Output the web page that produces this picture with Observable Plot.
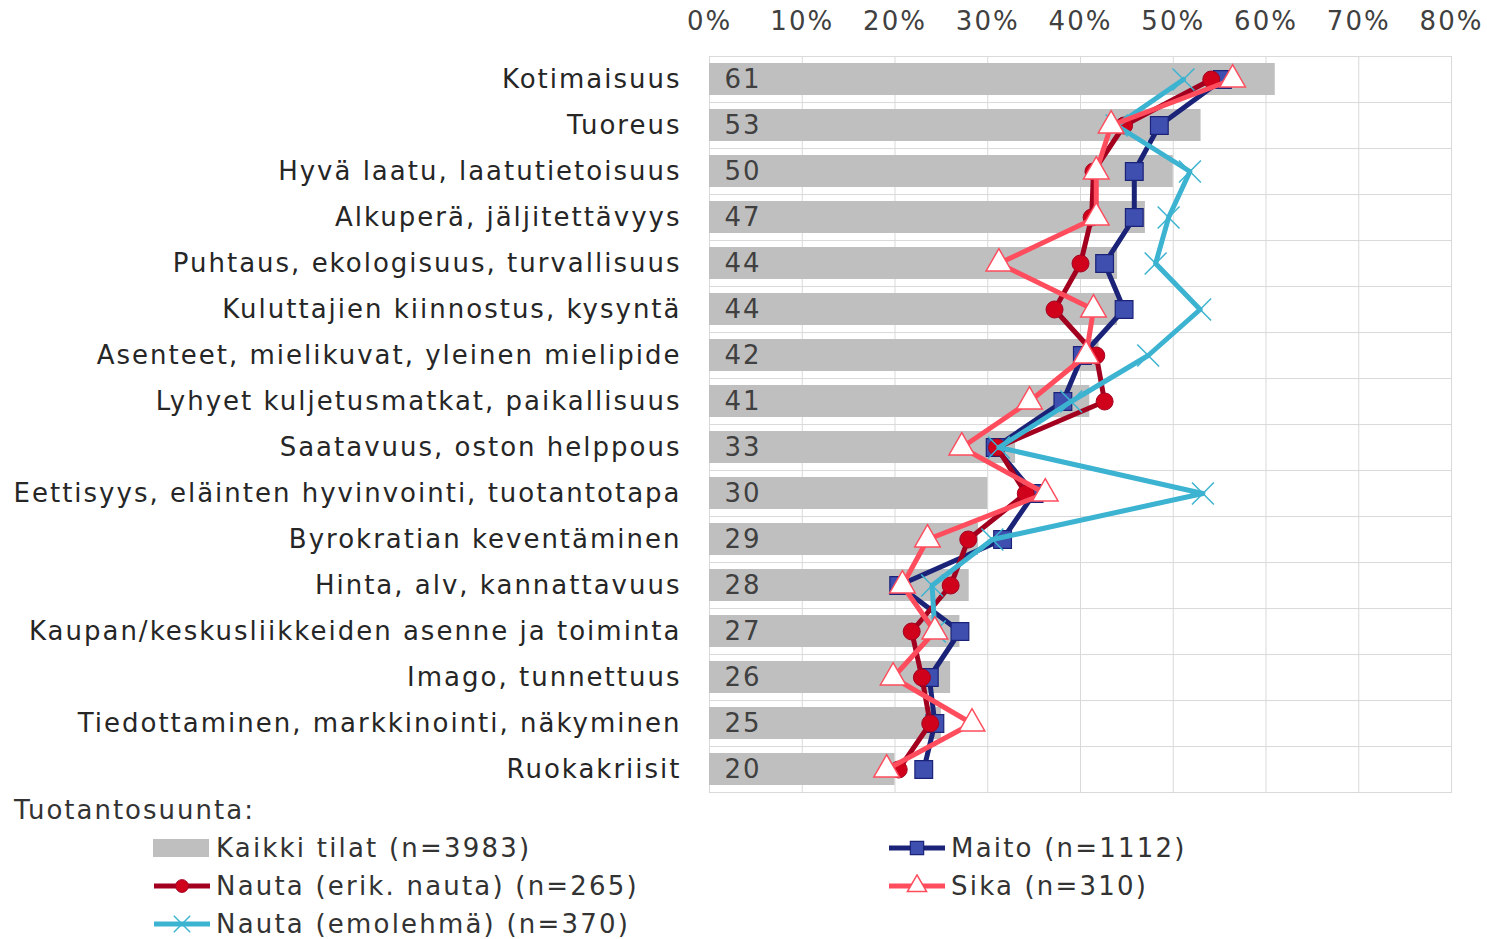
<!DOCTYPE html>
<html>
<head>
<meta charset="utf-8">
<script src="https://cdn.jsdelivr.net/npm/d3@7"></script>
<script src="https://cdn.jsdelivr.net/npm/@observablehq/plot@0.6"></script>
<style>
  body { margin: 0; background: white; font-family: "DejaVu Sans", sans-serif; }
  #chart svg { display: block; }
  .legend-title { font-size: 26px; color: #333; letter-spacing: 2px; margin: 0 0 0 14px; line-height: 30px; }
  .legend { display: grid; grid-template-columns: 735px auto; padding-left: 152px; font-size: 26px; color: #333; letter-spacing: 2.2px; margin-top: 4px; }
  .item { display: flex; align-items: center; height: 38px; }
  .item svg { margin-right: 2px; }
</style>
</head>
<body>
<div id="chart"></div>
<div class="legend-title">Tuotantosuunta:</div>
<div class="legend" id="legend"></div>
<script>
const categories = [
  "Kotimaisuus",
  "Tuoreus",
  "Hyvä laatu, laatutietoisuus",
  "Alkuperä, jäljitettävyys",
  "Puhtaus, ekologisuus, turvallisuus",
  "Kuluttajien kiinnostus, kysyntä",
  "Asenteet, mielikuvat, yleinen mielipide",
  "Lyhyet kuljetusmatkat, paikallisuus",
  "Saatavuus, oston helppous",
  "Eettisyys, eläinten hyvinvointi, tuotantotapa",
  "Byrokratian keventäminen",
  "Hinta, alv, kannattavuus",
  "Kaupan/keskusliikkeiden asenne ja toiminta",
  "Imago, tunnettuus",
  "Tiedottaminen, markkinointi, näkyminen",
  "Ruokakriisit"
];
const kaikki    = [61, 53, 50, 47, 44, 44, 42, 41, 33, 30, 29, 28, 27, 26, 25, 20];
const maito     = [55.3, 48.5, 45.8, 45.8, 42.6, 44.7, 40.2, 38.1, 30.8, 35.0, 31.6, 20.4, 27.0, 23.7, 24.3, 23.1];
const nautaErik = [54.1, 44.7, 41.4, 41.2, 40.0, 37.2, 41.7, 42.6, 31.0, 34.1, 27.9, 26.0, 21.8, 22.9, 23.8, 20.4];
const nautaEmo  = [51.1, 43.9, 51.8, 49.5, 48.1, 52.9, 47.3, 39.0, 31.2, 53.2, 30.5, 24.0, 24.3, null, null, null];
const sika      = [56.4, 43.3, 41.7, 41.7, 31.2, 41.4, 40.6, 34.5, 27.2, 36.2, 23.5, 20.8, 24.3, 19.8, 28.3, 19.1];
const xTicks = [0, 10, 20, 30, 40, 50, 60, 70, 80];

const seriesNames = {
  kaikki: "Kaikki tilat (n=3983)",
  maito: "Maito (n=1112)",
  nautaErik: "Nauta (erik. nauta) (n=265)",
  nautaEmo: "Nauta (emolehmä) (n=370)",
  sika: "Sika (n=310)"
};

const W = 1487, H = 795, mTop = 56, mBottom = 2;
const step = (H - mTop - mBottom) / categories.length;

const rows = (vals) => categories.map((c, i) => ({cat: c, v: vals[i]}));
const bars = rows(kaikki);

const styles = [
  {vals: maito, line: "#1b2378", symbol: "square", fill: "#3f4fb0", stroke: "#1b2378", r: 10, sw: 1.2},
  {vals: nautaErik, line: "#a3001f", symbol: "circle", fill: "#d0021b", stroke: "#a3001f", r: 8.5, sw: 1},
  {vals: nautaEmo, line: "#3cb3d0", symbol: "times", fill: "none", stroke: "#3cb3d0", r: 10, sw: 1.5},
  {vals: sika, line: "#ff4d5e", symbol: "triangle", fill: "white", stroke: "#ff4d5e", r: 9.5, sw: 1.5}
];

const seriesMarks = styles.flatMap(s => {
  const d = rows(s.vals);
  return [
    Plot.line(d, {x: "v", y: "cat", stroke: s.line, strokeWidth: 5, curve: "linear"}),
    Plot.dot(d.filter(e => e.v != null), {x: "v", y: "cat", symbol: () => s.symbol, fill: s.fill, stroke: s.stroke, strokeWidth: s.sw, r: s.r})
  ];
});

const chart = Plot.plot({
  width: W, height: H,
  marginLeft: 709, marginRight: 36, marginTop: mTop, marginBottom: mBottom,
  style: {fontFamily: "DejaVu Sans", fontSize: "26px", color: "#333", background: "white", letterSpacing: "2px"},
  x: {domain: [0, 80], label: null},
  y: {domain: categories, paddingInner: 0.3, paddingOuter: 0.15, label: null},
  symbol: {type: "identity"},
  marks: [
    Plot.gridX(xTicks, {stroke: "#d9d9d9", strokeOpacity: 1, strokeWidth: 1}),
    Plot.ruleY(categories, {y: d => d, dy: step / 2, stroke: "#d9d9d9", x1: 0, x2: 80}),
    Plot.ruleY(categories.slice(0, 1), {y: d => d, dy: -step / 2, stroke: "#d9d9d9", x1: 0, x2: 80}),
    Plot.barX(bars, {x: "v", y: "cat", fill: "#bfbfbf"}),
    Plot.text(bars, {x: 0, y: "cat", text: d => String(d.v), textAnchor: "start", dx: 15, fill: "#404040", fontSize: 26}),
    ...seriesMarks,
    Plot.axisX(xTicks, {anchor: "top", tickSize: 0, tickPadding: 27, tickFormat: d => d + "%", fill: "#404040", label: null}),
    Plot.axisY({tickSize: 0, tickPadding: 28, fill: "#262626", label: null})
  ]
});
document.getElementById("chart").appendChild(chart);

// Legend
const legendItems = [
  {key: "kaikki", type: "bar"},
  {key: "maito", s: styles[0]},
  {key: "nautaErik", s: styles[1]},
  {key: "sika", s: styles[3]},
  {key: "nautaEmo", s: styles[2]},
  null
];
function symbolPath(sym, r) {
  const area = Math.PI * r * r;
  const map = {square: d3.symbolSquare, circle: d3.symbolCircle, triangle: d3.symbolTriangle, times: d3.symbolTimes};
  return d3.symbol(map[sym], area)();
}
const legend = document.getElementById("legend");
for (const it of legendItems) {
  const div = document.createElement("div");
  div.className = "item";
  if (it) {
    let sw;
    if (it.type === "bar") {
      sw = `<svg width="62" height="24"><rect x="1" y="3" width="56" height="18" fill="#bfbfbf"/></svg>`;
    } else {
      const s = it.s;
      const rr = s.r * 0.75;
      sw = `<svg width="62" height="24"><line x1="2" x2="58" y1="12" y2="12" stroke="${s.line}" stroke-width="5"/><path transform="translate(30,12)" d="${symbolPath(s.symbol, rr)}" fill="${s.fill}" stroke="${s.stroke}" stroke-width="${s.sw}"/></svg>`;
    }
    div.innerHTML = sw + `<span>${seriesNames[it.key]}</span>`;
  }
  legend.appendChild(div);
}
</script>
</body>
</html>
